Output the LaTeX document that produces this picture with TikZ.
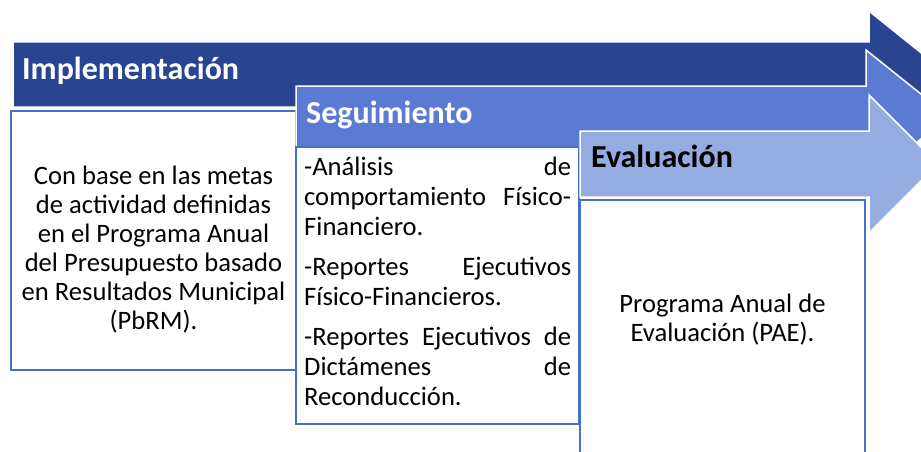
\documentclass[tikz,border=0pt]{standalone}
\usepackage{fontspec}
\setmainfont{Carlito}
\definecolor{darkA}{RGB}{41,69,145}
\definecolor{midA}{RGB}{91,123,211}
\definecolor{lightA}{RGB}{149,172,226}
\definecolor{boxline}{RGB}{68,114,196}
\tikzset{
  arrowshape/.style={draw=white, line width=1.5pt, line join=miter},
  contentbox/.style={draw=boxline, fill=white, line width=2pt},
  title/.style={anchor=base west, inner sep=0pt, font=\fontsize{32}{38}\selectfont\bfseries},
  bodytext/.style={inner sep=0pt, font=\fontsize{26.6}{29}\selectfont}
}
\begin{document}
\begin{tikzpicture}[x=1pt,y=-1pt]
\useasboundingbox (0,0) rectangle (921,452);
\clip (0,0) rectangle (921,452);
\fill[white] (0,0) rectangle (921,452);
% arrow 1
\draw[arrowshape, fill=darkA] (13,42) -- (869,42) -- (869,11) -- (948,74.5) -- (869,138) -- (869,107) -- (13,107) -- cycle;
\draw[contentbox] (11,111) rectangle (296,370);
\node[title, text=white] (t1) at (22,80) {Implementación};
\node[bodytext, align=center] (b1) at (153.5,250) {Con base en las metas\\de actividad definidas\\en el Programa Anual\\del Presupuesto basado\\en Resultados Municipal\\(PbRM).};
% arrow 2
\draw[arrowshape, fill=midA] (296,86) -- (866,86) -- (866,50) -- (949,116.5) -- (866,183) -- (866,147) -- (296,147) -- cycle;
\draw[contentbox] (296,147) rectangle (579,424);
\node[title, text=white] (t2) at (306,123) {Seguimiento};
\node[bodytext, anchor=north west, text width=267pt, align=justify, font=\fontsize{26.6}{30}\selectfont] (b2) at (304,157) {%
\hyphenpenalty=10000 -Análisis de\linebreak comportamiento Físico-\linebreak Financiero.\par\vspace{10pt}
-Reportes Ejecutivos\linebreak Físico-Financieros.\par\vspace{10pt}
-Reportes Ejecutivos de\linebreak Dictámenes de\linebreak Reconducción.};
% arrow 3
\draw[arrowshape, fill=lightA] (580,131) -- (869,131) -- (869,95) -- (938,164) -- (869,233) -- (869,197) -- (580,197) -- cycle;
\draw[contentbox] (580,200) rectangle (865,470);
\node[title, text=black] (t3) at (591,167) {Evaluación};
\node[bodytext, align=center] (b3) at (722.5,320) {Programa Anual de\\Evaluación (PAE).};
\end{tikzpicture}
\end{document}
